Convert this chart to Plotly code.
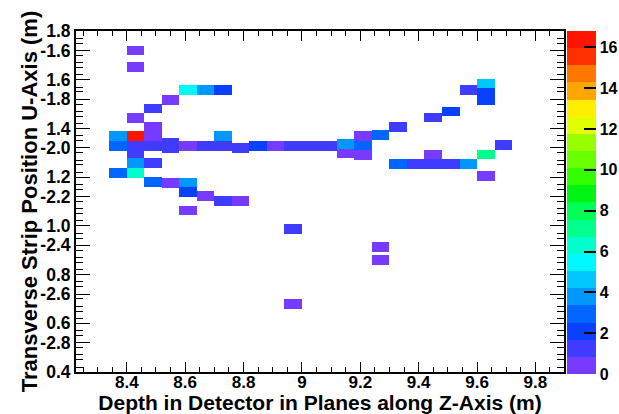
import plotly.graph_objects as go

# ---- data: one entry per filled cell (plane depth, strip position, content)
depth_z = [
    8.37, 8.37, 8.37,
    8.43, 8.43, 8.43, 8.43, 8.43, 8.43, 8.43, 8.43,
    8.49, 8.49, 8.49, 8.49, 8.49, 8.49,
    8.55, 8.55, 8.55, 8.55,
    8.61, 8.61, 8.61, 8.61, 8.61,
    8.67, 8.67, 8.67,
    8.73, 8.73, 8.73, 8.73,
    8.79, 8.79,
    8.85,
    8.91,
    8.97, 8.97, 8.97,
    9.03,
    9.09,
    9.15, 9.15,
    9.21, 9.21, 9.21,
    9.27, 9.27, 9.27,
    9.33, 9.33,
    9.39,
    9.45, 9.45, 9.45,
    9.51, 9.51,
    9.57, 9.57,
    9.63, 9.63, 9.63, 9.63, 9.63,
    9.69,
]
strip_u = [
    1.369, 1.329, 1.216,
    1.720, 1.651, 1.444, 1.369, 1.329, 1.297, 1.258, 1.216,
    1.482, 1.406, 1.366, 1.329, 1.257, 1.181,
    1.516, 1.341, 1.320, 1.177,
    1.559, 1.329, 1.177, 1.140, 1.063,
    1.559, 1.329, 1.122,
    1.559, 1.369, 1.329, 1.101,
    1.320, 1.101,
    1.329,
    1.329,
    1.329, 0.986, 0.680,
    1.329,
    1.329,
    1.336, 1.297,
    1.369, 1.330, 1.292,
    1.372, 0.914, 0.859,
    1.406, 1.254,
    1.254,
    1.445, 1.292, 1.254,
    1.470, 1.254,
    1.559, 1.254,
    1.581, 1.547, 1.516, 1.293, 1.206,
    1.331,
]
content = [
    3.8, 2.9, 2.9,
    0.5, 0.5, 0.5, 16.2, 1.3, 1.3, 3.8, 6.3,
    1.3, 0.5, 0.5, 1.3, 1.3, 2.9,
    0.5, 1.3, 1.3, 0.5,
    5.5, 0.5, 3.8, 2.1, 0.5,
    3.8, 1.3, 0.5,
    2.1, 3.8, 1.3, 1.3,
    1.3, 0.5,
    2.1,
    0.5,
    1.3, 1.3, 0.5,
    1.3,
    1.3,
    3.8, 0.5,
    0.5, 2.9, 0.5,
    2.9, 0.5, 0.5,
    1.3, 2.9,
    1.3,
    1.3, 0.5, 1.3,
    2.1, 1.3,
    1.3, 3.8,
    4.6, 2.1, 2.1, 7.1, 0.5,
    1.3,
]

x_ticks = [8.4, 8.6, 8.8, 9.0, 9.2, 9.4, 9.6, 9.8]
x_labels = ["8.4", "8.6", "8.8", "9", "9.2", "9.4", "9.6", "9.8"]
u_ticks = [0.4, 0.6, 0.8, 1.0, 1.2, 1.4, 1.6, 1.8]
u_labels = ["0.4", "0.6", "0.8", "1.0", "1.2", "1.4", "1.6", "1.8"]
v_ticks = [-2.8, -2.6, -2.4, -2.2, -2.0, -1.8, -1.6]
v_labels = ["-2.8", "-2.6", "-2.4", "-2.2", "-2.0", "-1.8", "-1.6"]
z_ticks = [0, 2, 4, 6, 8, 10, 12, 14, 16]

# ---- style
plane_pitch = 0.06
strip_width = 0.04
z_max = 16.8
v_offset = 3.32
band_colors = [
    "#773bff", "#3f3cff", "#0a40ff", "#0066ff", "#0098ff",
    "#00c8ff", "#00f8ff", "#00ffcc", "#00ff8c", "#00ff55",
    "#00f512", "#33ff00", "#69ff00", "#99ff00", "#e0ff00",
    "#ffee00", "#ffa700", "#ff7700", "#ff3000", "#ff1400",
]
n = len(band_colors)
colorscale = []
for i, c in enumerate(band_colors):
    colorscale.append([i / n, c])
    colorscale.append([(i + 1) / n, c])

FONT = "Liberation Sans, Arial, Helvetica, sans-serif"
xtickfont = dict(family=FONT, size=17, color="black", weight="bold")
ytickfont = dict(family=FONT, size=17.5, color="black", weight="bold")
xtitlefont = dict(family=FONT, size=21, color="black", weight="bold")
ytitlefont = dict(family=FONT, size=22, color="black", weight="bold")

fig = go.Figure()
fig.add_trace(go.Bar(
    x=depth_z,
    y=[strip_width] * len(strip_u),
    base=[u - strip_width / 2 for u in strip_u],
    width=plane_pitch,
    marker=dict(
        color=content, colorscale=colorscale, cmin=0, cmax=z_max,
        line=dict(width=0),
        showscale=True,
        colorbar=dict(
            thickness=29, thicknessmode="pixels",
            len=343, lenmode="pixels",
            x=1.006, xanchor="left", xpad=0,
            y=0.497, yanchor="middle", ypad=0,
            outlinewidth=0,
            tickvals=z_ticks, ticks="inside", ticklen=12,
            tickcolor="black", tickwidth=1.5,
            tickfont=dict(family=FONT, size=16, color="black", weight="bold"),
        ),
    ),
    showlegend=False,
    hoverinfo="skip",
))
fig.add_trace(go.Scatter(x=[None], y=[None], yaxis="y2", showlegend=False,
                         hoverinfo="skip"))

fig.update_layout(
    width=619, height=414,
    margin=dict(l=76, r=55, t=31, b=42, autoexpand=False),
    paper_bgcolor="white", plot_bgcolor="white",
    barmode="overlay", bargap=0,
    xaxis=dict(
        range=[8.226, 9.898], automargin=False,
        tickvals=x_ticks, ticktext=x_labels,
        ticks="inside", ticklen=10, tickwidth=1, tickcolor="black",
        minor=dict(dtick=0.05, tick0=8.4, ticks="inside", ticklen=5,
                   tickcolor="black", tickwidth=1),
        showline=True, linecolor="black", linewidth=2, mirror="ticks",
        showgrid=False, zeroline=False,
        tickfont=xtickfont, ticklabelstandoff=-6,
        title=dict(text="Depth in Detector in Planes along Z-Axis (m)",
                   font=xtitlefont, standoff=10),
    ),
    yaxis=dict(
        range=[u_ticks[0], u_ticks[-1]], automargin=False,
        tickvals=u_ticks, ticktext=u_labels,
        ticks="inside", ticklen=14, tickwidth=1, tickcolor="black",
        minor=dict(dtick=0.05, tick0=0.4, ticks="inside", ticklen=7,
                   tickcolor="black", tickwidth=1),
        showline=True, linecolor="black", linewidth=2, mirror="ticks",
        showgrid=False, zeroline=False,
        tickfont=ytickfont,
        title=dict(text="Transverse Strip Position U-Axis (m)",
                   font=ytitlefont, standoff=2),
    ),
    yaxis2=dict(
        overlaying="y", side="left", anchor="x", automargin=False,
        range=[u_ticks[0] - v_offset, u_ticks[-1] - v_offset],
        tickvals=v_ticks, ticktext=v_labels,
        ticks="inside", ticklen=14, tickwidth=1, tickcolor="black",
        minor=dict(dtick=0.05, tick0=-1.6, ticks="inside", ticklen=7,
                   tickcolor="black", tickwidth=1),
        showline=True, linecolor="black", linewidth=2, mirror="ticks",
        showgrid=False, zeroline=False,
        tickfont=ytickfont,
    ),
)

fig.write_html("out.html")
